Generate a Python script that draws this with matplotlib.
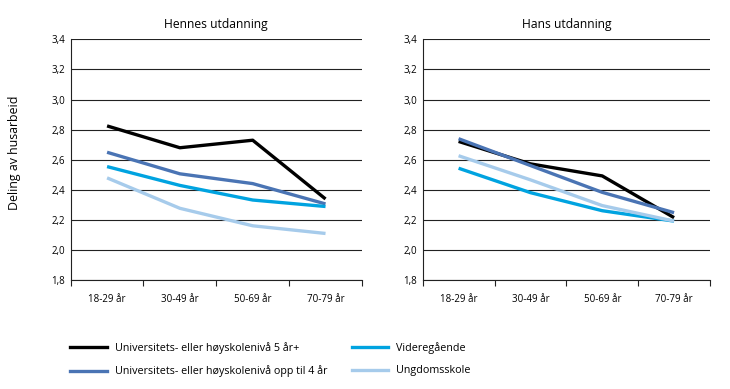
import matplotlib
matplotlib.use("Agg")
import matplotlib.pyplot as plt
from matplotlib.lines import Line2D

plt.rcParams['font.family'] = ['Open Sans', 'DejaVu Sans']

categories = ["18-29 år", "30-49 år", "50-69 år", "70-79 år"]
series_names = ["Universitets- eller høyskolenivå 5 år+",
                "Universitets- eller høyskolenivå opp til 4 år",
                "Videregående",
                "Ungdomsskole"]
colors = ["#000000", "#4a74b4", "#00a3e0", "#a6cbeb"]

hennes_5plus = [2.825, 2.68, 2.73, 2.34]
hennes_opp4 = [2.65, 2.507, 2.442, 2.307]
hennes_vgs = [2.555, 2.43, 2.333, 2.29]
hennes_ungdom = [2.48, 2.278, 2.162, 2.111]

hans_5plus = [2.722, 2.573, 2.493, 2.216]
hans_opp4 = [2.74, 2.562, 2.384, 2.249]
hans_vgs = [2.544, 2.382, 2.262, 2.193]
hans_ungdom = [2.627, 2.467, 2.296, 2.193]

yticks = [1.8, 2.0, 2.2, 2.4, 2.6, 2.8, 3.0, 3.2, 3.4]
ytick_labels = ["1,8", "2,0", "2,2", "2,4", "2,6", "2,8", "3,0", "3,2", "3,4"]

panels = [
    ("Hennes utdanning", [hennes_5plus, hennes_opp4, hennes_vgs, hennes_ungdom]),
    ("Hans utdanning", [hans_5plus, hans_opp4, hans_vgs, hans_ungdom]),
]

fig = plt.figure(figsize=(7.3, 3.89), dpi=100)
positions = [[0.0968, 0.2794, 0.399, 0.6196], [0.579, 0.2794, 0.3936, 0.6196]]

for pos, (title, data) in zip(positions, panels):
    ax = fig.add_axes(pos)
    x = list(range(len(categories)))
    for vals, c in zip(data, colors):
        ax.plot(x, vals, color=c, lw=2.4, solid_capstyle='butt', zorder=3)
    ax.set_xlim(-0.5, len(categories) - 0.5)
    ax.set_ylim(1.8, 3.4)
    ax.set_yticks(yticks)
    ax.set_yticklabels(ytick_labels)
    ax.yaxis.grid(True, color='#222222', lw=0.8)
    ax.set_axisbelow(True)
    ax.set_xticks([i - 0.5 for i in range(len(categories) + 1)], minor=False)
    ax.set_xticklabels([])
    ax.set_xticks(x, minor=True)
    ax.set_xticklabels(categories, minor=True)
    ax.tick_params(axis='x', which='major', direction='out', length=4, width=0.8, color='#222222')
    ax.tick_params(axis='x', which='minor', length=0, pad=10, labelsize=7)
    ax.tick_params(axis='y', length=0, labelsize=7, pad=4)
    for s in ['top', 'right']:
        ax.spines[s].set_visible(False)
    for s in ['left', 'bottom']:
        ax.spines[s].set_color('#222222')
        ax.spines[s].set_linewidth(0.8)
    ax.set_title(title, fontsize=8.7, pad=8)

fig.text(0.0205, 0.607, "Deling av husarbeid", rotation=90, va='center', ha='center', fontsize=8.9)

handles = [Line2D([0], [0], color=c, lw=2.4) for c in colors]
fig.legend(handles, series_names, loc='lower left', bbox_to_anchor=(0.083, 0.005),
           ncol=2, frameon=False, fontsize=7.75, handlelength=3.4, handletextpad=0.75,
           columnspacing=2.25, labelspacing=1.05)

fig.savefig("out.png", dpi=100)
